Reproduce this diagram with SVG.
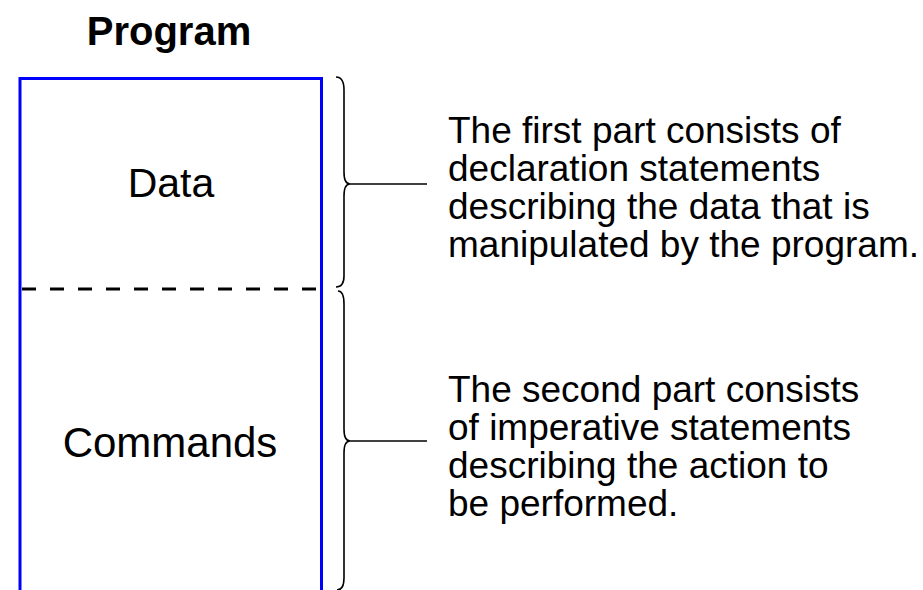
<svg xmlns="http://www.w3.org/2000/svg" width="923" height="590" viewBox="0 0 923 590">
<style>
text{font-family:"Liberation Sans",Arial,sans-serif;fill:#000}
.t{font-size:37px}
.b{fill:none;stroke:#000;stroke-width:1.6}
</style>
<rect width="923" height="590" fill="#fff"/>
<text x="169" y="45" font-size="40" font-weight="bold" text-anchor="middle">Program</text>
<g id="program">
<rect x="20" y="78.5" width="301.5" height="530" fill="none" stroke="#0000ff" stroke-width="3"/>
</g>
<g id="data">
<text x="171" y="197" font-size="41" text-anchor="middle">Data</text>
</g>
<g id="divider">
<line x1="22" y1="289" x2="320" y2="289" stroke="#000" stroke-width="3" stroke-dasharray="14 14"/>
</g>
<g id="commands">
<text x="170" y="457" font-size="42" text-anchor="middle">Commands</text>
</g>
<g id="connectors">
<path class="b" d="M336,77 Q344,77 344,90 L344,172 Q344,184 350,184 Q344,184 344,196 L344,276 Q344,287 336,287"/>
<path class="b" d="M338,291 Q344,291 344,304 L344,429 Q344,441 350,441 Q344,441 344,453 L344,578 Q344,590 337,590"/>
<line class="b" x1="350" y1="184" x2="427" y2="184"/>
<line class="b" x1="350" y1="441" x2="427" y2="441"/>
</g>
<g id="desc1">
<text class="t" x="448" y="143">The first part consists of</text>
<text class="t" x="448" y="181">declaration statements</text>
<text class="t" x="448" y="219">describing the data that is</text>
<text class="t" x="448" y="257">manipulated by the program.</text>
</g>
<g id="desc2">
<text class="t" x="448" y="402">The second part consists</text>
<text class="t" x="448" y="440">of imperative statements</text>
<text class="t" x="448" y="478">describing the action to</text>
<text class="t" x="448" y="516">be performed.</text>
</g>
</svg>
